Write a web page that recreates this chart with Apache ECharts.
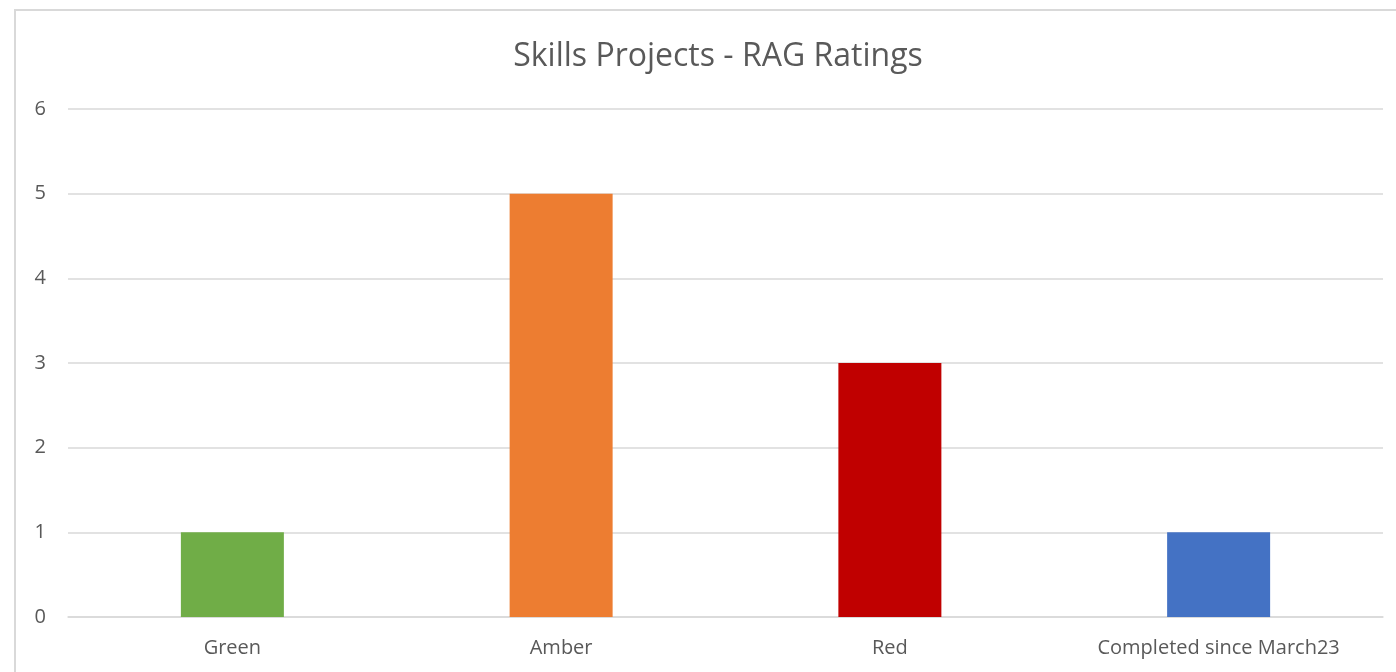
<!DOCTYPE html>
<html><head><meta charset="utf-8">
<script src="https://cdn.jsdelivr.net/npm/echarts@6/dist/echarts.min.js"></script>
<style>html,body{margin:0;padding:0;background:#fff}#c{width:1396px;height:672px}</style>
</head><body><div id="c"></div>
<script>
const categories = ['Green', 'Amber', 'Red', 'Completed since March23'];
const values = [1, 5, 3, 1];
const barColors = ['#70AD47', '#ED7D31', '#C00000', '#4472C4'];
const yTicks = [0, 1, 2, 3, 4, 5, 6];
const titleText = 'Skills Projects - RAG Ratings';

const chart = echarts.init(document.getElementById('c'));
const font = "'Open Sans', 'Noto Sans', sans-serif";
chart.setOption({
  animation: false,
  title: { text: titleText, left: 713, top: 36, textAlign: 'center',
    textStyle: { fontFamily: font, fontSize: 32, fontWeight: 'normal', color: '#595959' } },
  graphic: [{ type: 'rect', silent: true, shape: { x: 15, y: 10, width: 2000, height: 2000 },
    style: { fill: 'none', stroke: '#d9d9d9', lineWidth: 2 } }],
  grid: { left: 68, right: 13, top: 109, bottom: 55 },
  xAxis: { type: 'category', data: categories,
    axisLine: { lineStyle: { color: '#d9d9d9', width: 1.5 } }, axisTick: { show: false },
    axisLabel: { fontFamily: font, fontSize: 20, color: '#595959', margin: 21 } },
  yAxis: { type: 'value', min: yTicks[0], max: yTicks[yTicks.length - 1], interval: 1,
    axisLine: { show: false }, axisTick: { show: false },
    splitLine: { lineStyle: { color: '#d9d9d9', width: 1.5 } },
    axisLabel: { fontFamily: font, fontSize: 20, color: '#595959', margin: 22 } },
  series: [{ type: 'bar', barWidth: 103,
    data: values.map((v, i) => ({ value: v, itemStyle: { color: barColors[i] } })) }]
});
</script></body></html>
